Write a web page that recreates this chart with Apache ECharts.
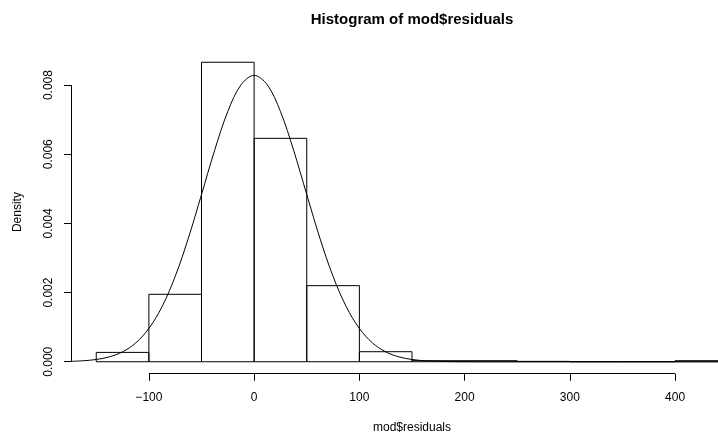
<!DOCTYPE html>
<html>
<head>
<meta charset="utf-8">
<script src="https://cdn.jsdelivr.net/npm/echarts@6/dist/echarts.min.js"></script>
<style>
  html, body { margin: 0; padding: 0; background: #fff; }
  #chart { width: 718px; height: 434px; }
</style>
</head>
<body>
<div id="chart"></div>
<script>
// histogram bins (width 50) and their densities
const binStart = [-150, -100, -50, 0, 50, 100, 150, 200, 250, 300, 350, 400];
const binWidth = 50;
const density = [0.00027, 0.00195, 0.00866, 0.00646, 0.0022, 0.00029, 0.00003, 0.00003, 0.00001, 0, 0, 0.00003];

// normal curve
const curveX = [-174, -162.5, -150, -137.5, -125, -112.5, -100, -87.5, -75, -62.5, -50, -37.5, -25, -12.5,
  0, 12.5, 25, 37.5, 50, 62.5, 75, 87.5, 100, 112.5, 125, 137.5, 150, 162.5, 175, 187.5, 200, 225, 250, 474];
const curveY = [0.000012, 0.000028, 0.000065, 0.000142, 0.000287, 0.000543, 0.000962, 0.001593, 0.002467,
  0.003572, 0.004835, 0.006117, 0.007237, 0.008006, 0.00828, 0.008006, 0.007237, 0.006117, 0.004835,
  0.003572, 0.002467, 0.001593, 0.000962, 0.000543, 0.000287, 0.000142, 0.000065, 0.000028, 0.000012,
  0.000004, 0.0000015, 0, 0, 0];

const xTicks = [-100, 0, 100, 200, 300, 400];
const yTicks = [0, 0.002, 0.004, 0.006, 0.008];
const xMin = -174, xMax = 474;
const yMin = -0.000346, yMax = 0.009;

const chart = echarts.init(document.getElementById('chart'));

const font = 'Liberation Sans, Arial, Helvetica, sans-serif';

const option = {
  animation: false,
  graphic: [{
    type: 'text',
    x: 412,
    y: 20,
    style: {
      text: 'Histogram of mod$residuals',
      font: 'bold 15px ' + font,
      fill: '#000',
      textAlign: 'center',
      textVerticalAlign: 'middle'
    }
  }],
  grid: { left: 71, right: -35, top: 50.5, bottom: 60.3, outerBoundsMode: 'none', containLabel: false },
  xAxis: {
    type: 'value',
    min: xMin,
    max: xMax,
    name: 'mod$residuals',
    nameLocation: 'middle',
    nameGap: 48,
    nameTextStyle: { fontFamily: font, fontSize: 12, color: '#000' },
    axisLine: { show: false, onZero: false },
    splitLine: { show: false },
    axisTick: { show: true, length: 7, customValues: xTicks, lineStyle: { color: '#000' } },
    axisLabel: {
      customValues: xTicks,
      margin: 18,
      fontFamily: font,
      fontSize: 12,
      color: '#000',
      formatter: v => String(v).replace('-', '\u2212')
    }
  },
  yAxis: {
    type: 'value',
    min: yMin,
    max: yMax,
    name: 'Density',
    nameLocation: 'middle',
    nameGap: 47,
    nameTextStyle: { fontFamily: font, fontSize: 12, color: '#000' },
    axisLine: { show: false, onZero: false },
    splitLine: { show: false },
    axisTick: { show: true, length: 7, customValues: yTicks, lineStyle: { color: '#000' } },
    axisLabel: {
      customValues: yTicks,
      rotate: 90,
      margin: 16,
      fontFamily: font,
      fontSize: 12,
      color: '#000',
      formatter: v => v.toFixed(3)
    }
  },
  series: [
    {
      type: 'custom',
      renderItem: function (params, api) {
        const x0 = api.value(0);
        const h = api.value(1);
        const p0 = api.coord([x0, 0]);
        const p1 = api.coord([x0 + binWidth, h]);
        return {
          type: 'rect',
          shape: { x: p0[0], y: p1[1], width: p1[0] - p0[0], height: p0[1] - p1[1] },
          style: { fill: 'none', stroke: '#000', lineWidth: 1 }
        };
      },
      data: binStart.map((b, i) => [b, density[i]])
    },
    {
      type: 'line',
      data: curveX.map((x, i) => [x, curveY[i]]),
      smooth: 0.35,
      showSymbol: false,
      clip: false,
      lineStyle: { color: '#000', width: 1 },
      markLine: {
        silent: true,
        symbol: 'none',
        label: { show: false },
        lineStyle: { color: '#000', width: 1, type: 'solid' },
        data: [
          [{ coord: [xTicks[0], yMin] }, { coord: [xTicks[xTicks.length - 1], yMin] }],
          [{ coord: [xMin, yTicks[0]] }, { coord: [xMin, yTicks[yTicks.length - 1]] }]
        ]
      }
    }
  ]
};

chart.setOption(option);
</script>
</body>
</html>
